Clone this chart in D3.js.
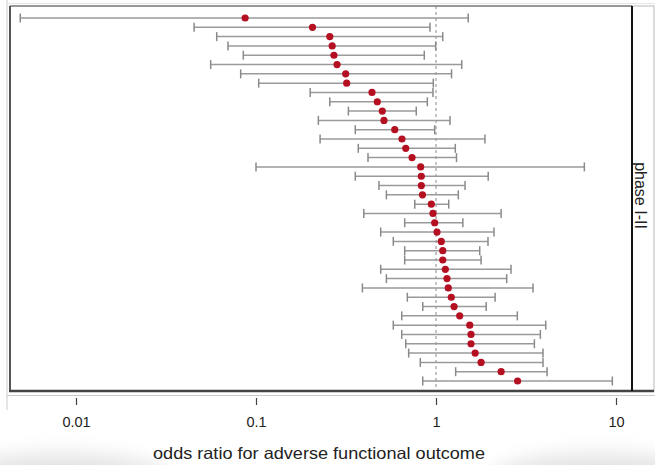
<!DOCTYPE html>
<html>
<head>
<meta charset="utf-8">
<script src="https://cdn.jsdelivr.net/npm/d3@7"></script>
<style>
  html, body { margin: 0; padding: 0; background: #fff; }
  svg { display: block; }
  text { font-family: "Liberation Sans", Arial, sans-serif; fill: #222; }
</style>
</head>
<body>
<svg id="chart" width="655" height="465"></svg>
<script>
// ---- data ----
const studies = d3.range(1, 41).map(i => "study " + i);
const oddsRatio = [0.087, 0.206, 0.257, 0.265, 0.271, 0.282, 0.315, 0.319, 0.441, 0.472,
                   0.503, 0.514, 0.59, 0.647, 0.679, 0.736, 0.822, 0.829, 0.829, 0.841,
                   0.942, 0.962, 0.983, 1.013, 1.07, 1.09, 1.09, 1.127, 1.151, 1.17,
                   1.216, 1.26, 1.354, 1.54, 1.565, 1.565, 1.65, 1.78, 2.30, 2.84];
const ciLow     = [0.0049, 0.0453, 0.0605, 0.0699, 0.085, 0.056, 0.0822, 0.1035, 0.2, 0.257,
                   0.326, 0.222, 0.356, 0.227, 0.37, 0.419, 0.1, 0.356, 0.482, 0.53,
                   0.762, 0.397, 0.67, 0.493, 0.579, 0.67, 0.67, 0.493, 0.53, 0.39,
                   0.693, 0.844, 0.645, 0.579, 0.645, 0.679, 0.705, 0.818, 1.286, 0.844];
const ciHigh    = [1.51, 0.926, 1.09, 0.996, 0.861, 1.39, 1.22, 0.966, 0.962, 0.895,
                   0.777, 1.196, 0.983, 1.87, 1.28, 1.30, 6.67, 1.95, 1.45, 1.33,
                   1.177, 2.30, 1.41, 2.10, 1.945, 1.75, 1.78, 2.61, 2.47, 3.46,
                   2.13, 1.90, 2.83, 4.07, 3.80, 3.52, 3.93, 3.93, 4.14, 9.54];
const tickValues = [0.01, 0.1, 1, 10];
const tickLabels = ["0.01", "0.1", "1", "10"];
const xTitle = "odds ratio for adverse functional outcome";
const panelLabel = "phase I-II";

const rows = studies.map((s, i) => ({ study: s, or: oddsRatio[i], lo: ciLow[i], hi: ciHigh[i] }));

// ---- layout ----
const svg = d3.select("#chart");
const plot = { left: 10, right: 632, top: 6, bottom: 391 };
const strip = { left: 632, right: 654 };

const x = d3.scaleLog().domain([0.01, 10]).range([76, 616]);
const y = d3.scalePoint().domain(studies).range([18, 381]);

// soft screenshot shadow at the bottom
const defs = svg.append("defs");
defs.append("filter").attr("id", "blur").attr("x", "-50%").attr("y", "-50%").attr("width", "200%").attr("height", "200%")
  .append("feGaussianBlur").attr("stdDeviation", 10);
svg.append("ellipse").attr("cx", 60).attr("cy", 480).attr("rx", 110).attr("ry", 26)
  .attr("fill", "#e2e2e2").attr("filter", "url(#blur)");
svg.append("ellipse").attr("cx", 600).attr("cy", 480).attr("rx", 110).attr("ry", 26)
  .attr("fill", "#e2e2e2").attr("filter", "url(#blur)");

// outer light frame lines (screenshot chrome)
svg.append("line").attr("x1", 7).attr("x2", 7).attr("y1", 0).attr("y2", 410)
  .attr("stroke", "#d6d6d6").attr("stroke-width", 1.2);
svg.append("line").attr("x1", 7).attr("x2", 655).attr("y1", 395.5).attr("y2", 395.5)
  .attr("stroke", "#c8c8c8").attr("stroke-width", 1.2);
svg.append("line").attr("x1", 7).attr("x2", 655).attr("y1", 3.5).attr("y2", 3.5)
  .attr("stroke", "#e6e6e6").attr("stroke-width", 1);

// strip panel
svg.append("rect").attr("x", strip.left).attr("y", plot.top)
  .attr("width", strip.right - strip.left).attr("height", plot.bottom - plot.top)
  .attr("fill", "#fff").attr("stroke", "#b8b8b8").attr("stroke-width", 1);
svg.append("text")
  .attr("transform", `translate(${strip.left + 3},${(plot.top + plot.bottom) / 2 - 3}) rotate(90)`)
  .attr("text-anchor", "middle")
  .style("font-size", "16px")
  .text(panelLabel);

// reference line at OR = 1
svg.append("line")
  .attr("x1", x(1)).attr("x2", x(1))
  .attr("y1", plot.top).attr("y2", plot.bottom)
  .attr("stroke", "#8a8a8a").attr("stroke-width", 1)
  .attr("stroke-dasharray", "3,3");

// whiskers
const g = svg.append("g");
g.selectAll("line.ci").data(rows).join("line").attr("class", "ci")
  .attr("x1", d => x(d.lo)).attr("x2", d => x(d.hi))
  .attr("y1", d => y(d.study)).attr("y2", d => y(d.study))
  .attr("stroke", "#9a9a9a").attr("stroke-width", 1.5);
g.selectAll("line.capL").data(rows).join("line").attr("class", "capL")
  .attr("x1", d => x(d.lo)).attr("x2", d => x(d.lo))
  .attr("y1", d => y(d.study) - 4.5).attr("y2", d => y(d.study) + 4.5)
  .attr("stroke", "#8a8a8a").attr("stroke-width", 1.5);
g.selectAll("line.capR").data(rows).join("line").attr("class", "capR")
  .attr("x1", d => x(d.hi)).attr("x2", d => x(d.hi))
  .attr("y1", d => y(d.study) - 4.5).attr("y2", d => y(d.study) + 4.5)
  .attr("stroke", "#8a8a8a").attr("stroke-width", 1.5);
g.selectAll("circle").data(rows).join("circle")
  .attr("cx", d => x(d.or)).attr("cy", d => y(d.study)).attr("r", 3.6)
  .attr("fill", "#b50f22");

// plot frame
svg.append("line").attr("x1", plot.left).attr("x2", plot.right).attr("y1", plot.top).attr("y2", plot.top)
  .attr("stroke", "#777").attr("stroke-width", 1.3);
svg.append("line").attr("x1", plot.left).attr("x2", plot.left).attr("y1", plot.top).attr("y2", plot.bottom)
  .attr("stroke", "#555").attr("stroke-width", 2);
svg.append("line").attr("x1", plot.left - 1).attr("x2", strip.right).attr("y1", plot.bottom).attr("y2", plot.bottom)
  .attr("stroke", "#444").attr("stroke-width", 2.4);
svg.append("line").attr("x1", plot.right).attr("x2", plot.right).attr("y1", plot.top).attr("y2", plot.bottom)
  .attr("stroke", "#111").attr("stroke-width", 2);

// x axis
const axis = d3.axisBottom(x)
  .tickValues(tickValues)
  .tickFormat((d, i) => tickLabels[i])
  .tickSize(7).tickPadding(12);
const ax = svg.append("g").attr("transform", `translate(0,398)`).call(axis);
ax.select(".domain").remove();
ax.selectAll(".tick line").attr("stroke", "#444").attr("stroke-width", 1.2);
ax.selectAll(".tick text").style("font-size", "14.5px").attr("fill", "#222")
  .style("font-family", "'Liberation Sans', Arial, sans-serif");

// x title
svg.append("text")
  .attr("x", 319).attr("y", 459)
  .attr("text-anchor", "middle")
  .attr("textLength", 332).attr("lengthAdjust", "spacingAndGlyphs")
  .style("font-size", "16.5px")
  .text(xTitle);
</script>
</body>
</html>
